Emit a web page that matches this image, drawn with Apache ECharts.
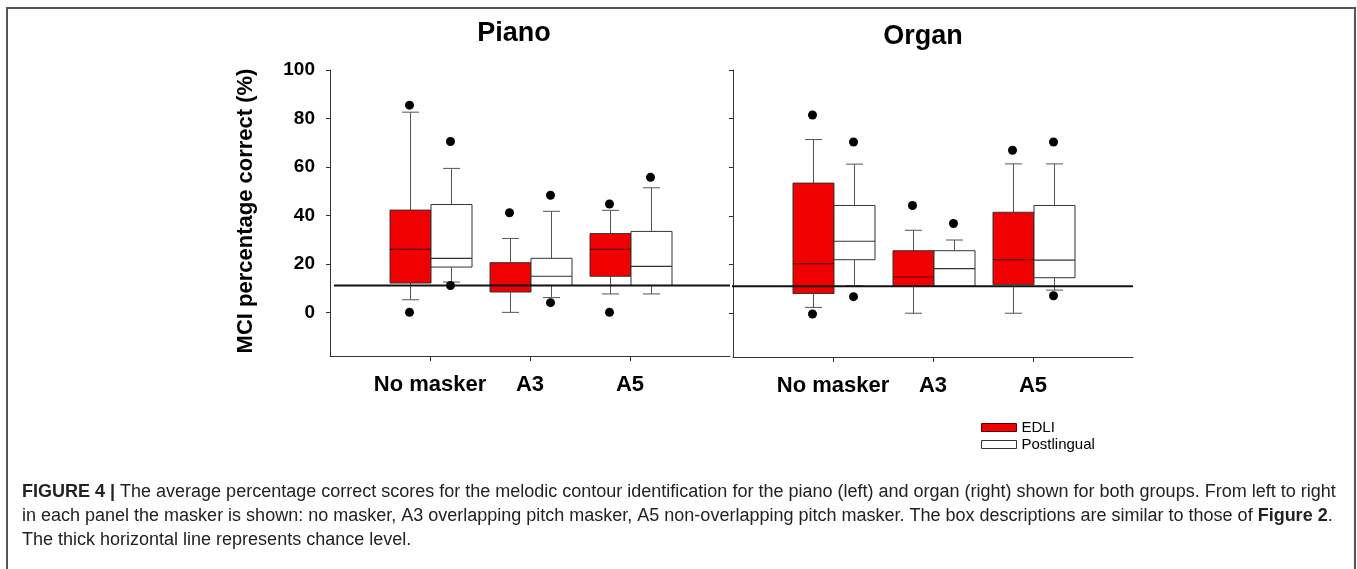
<!DOCTYPE html>
<html>
<head>
<meta charset="utf-8">
<script src="https://cdn.jsdelivr.net/npm/echarts@6/dist/echarts.min.js"></script>
<style>
html,body{margin:0;padding:0;background:#fff;}
#chart{width:1357px;height:569px;}
</style>
</head>
<body>
<div id="chart"></div>
<script>
// ---- data ----
const categories = ['No masker', 'A3', 'A5'];
const panelTitles = ['Piano', 'Organ'];
const groupNames = ['EDLI', 'Postlingual'];
const yTicks = [0, 20, 40, 60, 80, 100];
const chanceLevel = 11.1;
// [whisker low, Q1, median, Q3, whisker high] per category
const pianoEDLI = [[5.2, 12.1, 26.0, 42.2, 82.6], [0, 8.4, 11.1, 20.5, 30.5], [7.6, 14.9, 26.0, 32.5, 42.1]];
const pianoPost = [[12.5, 18.7, 22.3, 44.5, 59.4], [6.1, 11.1, 14.9, 22.3, 41.7], [7.6, 11.1, 19.0, 33.4, 51.4]];
const organEDLI = [[2.4, 8.1, 20.4, 53.5, 71.4], [0, 11.1, 14.9, 25.7, 34.1], [0, 11.7, 22.0, 41.5, 61.4]];
const organPost = [[11.3, 22.0, 29.6, 44.3, 61.3], [11.1, 11.1, 18.3, 25.7, 30.1], [9.5, 14.6, 21.8, 44.3, 61.4]];
// outliers: [category index, value]
const pianoEDLIOut = [[0, 85.5], [0, 0], [1, 41.1], [2, 44.7], [2, 0]];
const pianoPostOut = [[0, 70.5], [0, 11.1], [1, 48.3], [1, 4.0], [2, 55.7]];
const organEDLIOut = [[0, 81.5], [0, -0.3], [1, 44.3], [2, 67.0]];
const organPostOut = [[0, 70.4], [0, 6.8], [1, 36.9], [2, 70.4], [2, 7.2]];

// ---- chart ----
const FONT = "'Liberation Sans', Arial, Helvetica, sans-serif";
const OFF = 0.205, BOXW = 0.41, CAPW = 0.17;
const RED = '#f00000';

function boxRenderer(offset, fill, medColor) {
  return function (params, api) {
    const x = api.value(0) + offset;
    const lo = api.coord([x, api.value(1)]);
    const q1 = api.coord([x, api.value(2)]);
    const md = api.coord([x, api.value(3)]);
    const q3 = api.coord([x, api.value(4)]);
    const hi = api.coord([x, api.value(5)]);
    const hw = api.size([BOXW, 0])[0] / 2;
    const cw = api.size([CAPW, 0])[0] / 2;
    const wStyle = { stroke: '#555', lineWidth: 1, fill: null };
    const cx = Math.round(q1[0]) + 0.5;
    return {
      type: 'group',
      children: [
        { type: 'line', shape: { x1: cx, y1: q3[1], x2: cx, y2: hi[1] }, style: wStyle },
        { type: 'line', shape: { x1: cx - cw, y1: hi[1], x2: cx + cw, y2: hi[1] }, style: wStyle },
        { type: 'line', shape: { x1: cx, y1: q1[1], x2: cx, y2: lo[1] }, style: wStyle },
        { type: 'line', shape: { x1: cx - cw, y1: lo[1], x2: cx + cw, y2: lo[1] }, style: wStyle },
        { type: 'rect', shape: { x: cx - hw, y: q3[1], width: hw * 2, height: q1[1] - q3[1] },
          style: { fill: fill, stroke: '#333', lineWidth: 1 } },
        { type: 'line', shape: { x1: cx - hw, y1: md[1], x2: cx + hw, y2: md[1] },
          style: { stroke: medColor, lineWidth: 1.2 } }
      ]
    };
  };
}

function boxData(arr) { return arr.map((d, i) => [i + 1].concat(d)); }
function outData(arr, off) { return arr.map(d => [d[0] + 1 + off, d[1]]); }

const grids = [
  { left: 330, top: 70, width: 400, bottom: 213 },
  { left: 733, top: 70, width: 400, bottom: 212 }
];

const xAxes = grids.map((g, i) => ({
  gridIndex: i, type: 'value', min: 0, max: 4,
  axisLine: { show: true, onZero: false, lineStyle: { color: '#333', width: 1 } },
  axisTick: { show: true, customValues: [1, 2, 3], length: 5, lineStyle: { color: '#333' } },
  axisLabel: { show: true, customValues: [1, 2, 3], formatter: v => categories[Math.round(v) - 1] || '',
    fontFamily: FONT, fontWeight: 'bold', fontSize: 22, color: '#000', margin: 18 },
  splitLine: { show: false }
}));

const yAxes = grids.map((g, i) => ({
  gridIndex: i, type: 'value', min: -18, max: 100,
  axisLine: { show: true, onZero: false, lineStyle: { color: '#333', width: 1 } },
  axisTick: { show: true, customValues: yTicks, length: 4, lineStyle: { color: '#333' } },
  axisLabel: { show: i === 0, customValues: yTicks, fontFamily: FONT, fontWeight: 'bold',
    fontSize: 19, color: '#000', margin: 15 },
  splitLine: { show: false }
}));

const panels = [[pianoEDLI, pianoPost, pianoEDLIOut, pianoPostOut], [organEDLI, organPost, organEDLIOut, organPostOut]];
const series = [];
panels.forEach((p, i) => {
  series.push({
    name: groupNames[0], type: 'custom', xAxisIndex: i, yAxisIndex: i,
    renderItem: boxRenderer(-OFF, RED, '#5a0000'), data: boxData(p[0]),
    encode: { x: 0, y: [1, 2, 3, 4, 5] }, itemStyle: { color: RED }, z: 2, clip: false
  });
  series.push({
    name: groupNames[1], type: 'custom', xAxisIndex: i, yAxisIndex: i,
    renderItem: boxRenderer(OFF, '#fff', '#333'), data: boxData(p[1]),
    encode: { x: 0, y: [1, 2, 3, 4, 5] }, itemStyle: { color: '#fff' }, z: 2, clip: false
  });
  series.push({
    type: 'scatter', xAxisIndex: i, yAxisIndex: i, data: outData(p[2], -OFF).concat(outData(p[3], OFF)),
    symbolSize: 9, itemStyle: { color: '#000', opacity: 1 }, z: 4, silent: true
  });
  series.push({
    type: 'line', xAxisIndex: i, yAxisIndex: i, data: i === 0 ? [[0.04, chanceLevel], [4, chanceLevel]] : [[-0.08, chanceLevel], [4, chanceLevel]],
    showSymbol: false, symbol: 'none', clip: false, lineStyle: { color: '#111', width: 2 }, z: 3, silent: true
  });
});

const captionLines = [
  '{b|FIGURE 4 |} The average percentage correct scores for the melodic contour identification for the piano (left) and organ (right) shown for both groups. From left to right',
  'in each panel the masker is shown: no masker, A3 overlapping pitch masker, A5 non-overlapping pitch masker. The box descriptions are similar to those of {b|Figure 2}.',
  'The thick horizontal line represents chance level.'
];
const captionY = [492, 516, 540];

const graphics = [
  { type: 'rect', shape: { x: 7, y: 8, width: 1348, height: 620 }, style: { fill: 'none', stroke: '#555', lineWidth: 2 }, z: 0 },
  { type: 'text', x: 514, y: 34, style: { text: panelTitles[0], font: 'bold 27px ' + FONT, fill: '#000', align: 'center', verticalAlign: 'middle' } },
  { type: 'text', x: 923, y: 37, style: { text: panelTitles[1], font: 'bold 27px ' + FONT, fill: '#000', align: 'center', verticalAlign: 'middle' } },
  { type: 'text', x: 246, y: 211, rotation: Math.PI / 2, style: { text: 'MCI percentage correct (%)', font: 'bold 22px ' + FONT, fill: '#000', align: 'center', verticalAlign: 'middle' } }
];
captionLines.forEach((t, i) => {
  graphics.push({ type: 'text', x: 22, y: captionY[i], style: {
    text: t, fontFamily: FONT, fontSize: 18, fill: '#222', align: 'left', verticalAlign: 'middle',
    rich: { b: { fontFamily: FONT, fontSize: 18, fontWeight: 'bold', fill: '#222' } } } });
});

const chart = echarts.init(document.getElementById('chart'), null, { renderer: 'canvas' });
chart.setOption({
  animation: false,
  backgroundColor: '#fff',
  grid: grids,
  xAxis: xAxes,
  yAxis: yAxes,
  legend: {
    orient: 'vertical', left: 976, top: 415, itemWidth: 35, itemHeight: 8, itemGap: 2,
    icon: 'rect', textStyle: { fontFamily: FONT, fontSize: 15, color: '#000' },
    data: [
      { name: groupNames[0], itemStyle: { color: RED, borderColor: '#500', borderWidth: 1 } },
      { name: groupNames[1], itemStyle: { color: '#fff', borderColor: '#333', borderWidth: 1 } }
    ]
  },
  graphic: graphics,
  series: series
});
</script>
</body>
</html>
